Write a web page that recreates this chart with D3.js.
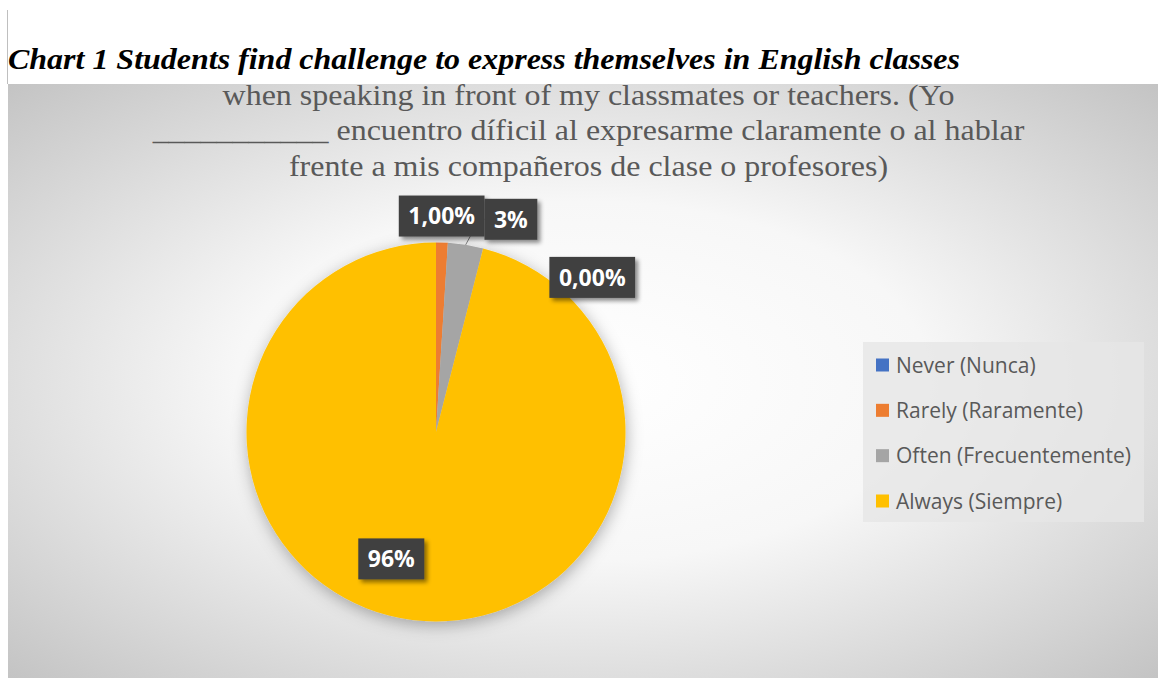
<!DOCTYPE html>
<html>
<head>
<meta charset="utf-8">
<script src="https://cdn.jsdelivr.net/npm/d3@7"></script>
<style>
  html, body { margin: 0; padding: 0; background: #ffffff; }
  svg { display: block; }
</style>
</head>
<body>
<svg id="chart" width="1158" height="679"></svg>
<script>
// Survey answers and their shares (percent)
const categories = ["Never (Nunca)", "Rarely (Raramente)", "Often (Frecuentemente)", "Always (Siempre)"];
const values = [0, 1, 3, 96];
const valueLabels = ["0,00%", "1,00%", "3%", "96%"];
const sliceColors = ["#4472C4", "#ED7D31", "#A5A5A5", "#FFC000"];

const captionText = "Chart 1 Students find challenge to express themselves in English classes";
const titleLines = [
  "when speaking in front of my classmates or teachers. (Yo",
  "___________ encuentro díficil al expresarme claramente o al hablar",
  "frente a mis compañeros de clase o profesores)"
];

const W = 1158, H = 679;
const svg = d3.select("#chart");
const defs = svg.append("defs");

// Chart area background: radial grey gradient
const bg = defs.append("radialGradient")
  .attr("id", "bgGrad")
  .attr("cx", 0.5).attr("cy", 0.5).attr("r", 0.72);
bg.append("stop").attr("offset", 0).attr("stop-color", "#ffffff");
bg.append("stop").attr("offset", 0.42).attr("stop-color", "#f7f7f7");
bg.append("stop").attr("offset", 1).attr("stop-color", "#c2c2c2");

// Soft shadow for the pie
const pieShadow = defs.append("filter").attr("id", "pieShadow")
  .attr("x", -0.2).attr("y", -0.2).attr("width", 1.4).attr("height", 1.4);
pieShadow.append("feDropShadow")
  .attr("dx", 1).attr("dy", 4).attr("stdDeviation", 8)
  .attr("flood-color", "#000").attr("flood-opacity", 0.3);

// Shadow for the value label boxes
const boxShadow = defs.append("filter").attr("id", "boxShadow")
  .attr("x", -0.3).attr("y", -0.3).attr("width", 1.6).attr("height", 1.6);
boxShadow.append("feDropShadow")
  .attr("dx", 3).attr("dy", 3).attr("stdDeviation", 2)
  .attr("flood-color", "#000").attr("flood-opacity", 0.45);

// Thin rule at the left of the caption
svg.append("line")
  .attr("x1", 7.5).attr("x2", 7.5).attr("y1", 10).attr("y2", 84)
  .attr("stroke", "#bfbfbf").attr("stroke-width", 1);

// Chart area
const area = { x: 8, y: 84, w: W - 8, h: 678 - 84 };
svg.append("rect")
  .attr("x", area.x).attr("y", area.y)
  .attr("width", area.w).attr("height", area.h)
  .attr("fill", "url(#bgGrad)");

// Caption above the chart
svg.append("text")
  .attr("x", 8).attr("y", 68.5)
  .attr("font-family", "'Liberation Serif', 'Times New Roman', serif")
  .attr("font-style", "italic").attr("font-weight", "bold")
  .attr("font-size", 30)
  .attr("textLength", 952).attr("lengthAdjust", "spacingAndGlyphs")
  .attr("fill", "#000")
  .text(captionText);

// Chart title (Times-style, grey, centred, slightly widened)
const titleCx = 588.5;
const titleG = svg.append("g");
const titleTexts = titleG.selectAll("text")
  .data(titleLines)
  .join("text")
  .attr("x", 0)
  .attr("y", (d, i) => 105 + i * 35.5)
  .attr("text-anchor", "middle")
  .attr("font-family", "'Liberation Serif', 'Times New Roman', serif")
  .attr("font-size", 28.5)
  .attr("fill", "#595959")
  .text(d => d);
const natural = titleTexts.nodes()[1].getComputedTextLength();
const stretch = 872 / natural;
titleG.attr("transform", `translate(${titleCx},0) scale(${stretch},1)`);

// Pie
const cx = 436, cy = 432, R = 189.5;
const data = categories.map((c, i) => ({ name: c, value: values[i], label: valueLabels[i], color: sliceColors[i] }));
const pie = d3.pie().value(d => d.value).sort(null);
const arcs = pie(data);
const arc = d3.arc().innerRadius(0).outerRadius(R);

const pieG = svg.append("g").attr("transform", `translate(${cx},${cy})`);
pieG.append("g").attr("filter", "url(#pieShadow)")
  .selectAll("path")
  .data(arcs)
  .join("path")
  .attr("d", arc)
  .attr("fill", d => d.data.color);

// Value label placement: angle shift (deg) from slice middle and radius factor
const labelLayout = [
  { shift: 45.3, r: 1.16 },
  { shift: -0.3, r: 1.14 },
  { shift: 10.4, r: 1.19 },
  { shift: 12.2, r: 0.71 }
];
const polar = (a, r) => [r * Math.sin(a), -r * Math.cos(a)];

const labelG = pieG.append("g");
arcs.forEach((a, i) => {
  const mid = (a.startAngle + a.endAngle) / 2;
  const lay = labelLayout[i];
  const [lx, ly] = polar(mid + lay.shift * Math.PI / 180, R * lay.r);
  const g = labelG.append("g").attr("transform", `translate(${lx},${ly})`);
  const rect = g.append("rect").attr("fill", "#404040").attr("filter", "url(#boxShadow)");
  const t = g.append("text")
    .attr("text-anchor", "middle")
    .attr("dy", "0.36em")
    .attr("font-family", "'Open Sans', 'Noto Sans', sans-serif")
    .attr("font-weight", "bold")
    .attr("font-size", 23)
    .attr("fill", "#ffffff")
    .text(a.data.label);
  const tw = t.node().getComputedTextLength();
  const bw = tw + 19, bh = 41;
  rect.attr("x", -bw / 2).attr("y", -bh / 2).attr("width", bw).attr("height", bh);

  // leader line for the thin slice whose label sits off to the side
  if (i === 2) {
    const [sx, sy] = polar(mid, R);
    const ex = lx - bw / 2, ey = ly;
    labelG.insert("path", ":first-child")
      .attr("d", d3.line()([[sx, sy], [ex - 5, ey], [ex, ey]]))
      .attr("fill", "none")
      .attr("stroke", "#7f7f7f")
      .attr("stroke-width", 1);
  }
});

// Legend
const legend = svg.append("g").attr("transform", "translate(863,342)");
legend.append("rect")
  .attr("width", 281).attr("height", 180)
  .attr("fill", "#e6e6e6").attr("fill-opacity", 0.8);
const rowY = d3.scalePoint().domain(categories).range([23, 159]);
const item = legend.selectAll("g.item")
  .data(data)
  .join("g")
  .attr("class", "item")
  .attr("transform", d => `translate(0,${rowY(d.name)})`);
item.append("rect")
  .attr("x", 13).attr("y", -6.5)
  .attr("width", 13).attr("height", 13)
  .attr("fill", d => d.color);
item.append("text")
  .attr("x", 33).attr("dy", "0.36em")
  .attr("font-family", "'Open Sans', 'Noto Sans', sans-serif")
  .attr("font-size", 21)
  .attr("fill", "#595959")
  .text(d => d.name);
</script>
</body>
</html>
